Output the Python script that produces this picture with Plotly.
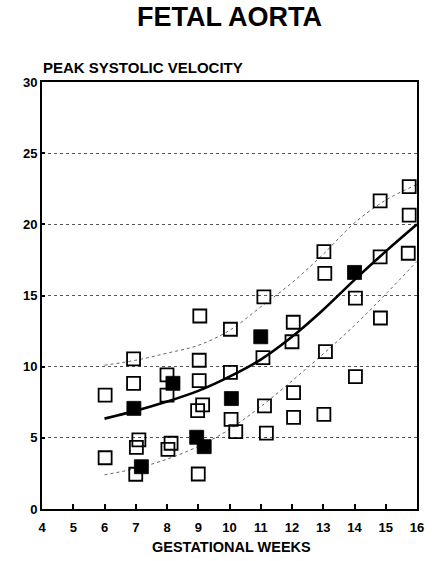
import plotly.graph_objects as go

# Individual measurements (gestational week, peak systolic velocity)
open_weeks = [6.02, 6.02, 6.93, 6.93, 7.10, 7.02, 7.00, 8.00, 8.00, 8.13, 8.03,
              9.05, 9.03, 9.03, 9.14, 8.98, 9.00, 10.03, 10.03, 10.05, 10.20,
              11.10, 11.07, 11.12, 11.18, 12.04, 12.00, 12.05, 12.05,
              13.02, 13.05, 13.07, 13.02, 14.03, 14.03, 14.82, 14.82, 14.83,
              15.75, 15.75, 15.72]
open_psv = [8.0, 3.6, 10.55, 8.83, 4.85, 4.33, 2.44, 9.42, 8.0, 4.62, 4.19,
            13.56, 10.45, 9.02, 7.31, 6.91, 2.46, 12.63, 9.6, 6.3, 5.43,
            14.9, 10.63, 7.24, 5.33, 13.12, 11.75, 8.17, 6.44,
            18.08, 16.56, 11.05, 6.65, 14.82, 9.3, 21.65, 17.72, 13.42,
            22.65, 20.65, 17.97]

filled_weeks = [6.94, 7.18, 8.19, 8.95, 9.19, 10.06, 11.00, 14.00]
filled_psv = [7.07, 2.97, 8.83, 5.04, 4.38, 7.76, 12.10, 16.62]

# Regression curve and its reference band
curve_weeks = [6, 7, 8, 9, 10, 11, 12, 13, 14, 15, 16]
mean_psv = [6.35, 6.9, 7.55, 8.3, 9.3, 10.5, 12.1, 14.0, 16.1, 18.1, 20.0]
upper_psv = [10.1, 10.45, 10.95, 11.5, 12.55, 14.2, 15.9, 17.9, 20.1, 21.7, 22.8]
lower_psv = [2.4, 2.85, 3.5, 4.4, 5.6, 7.2, 9.0, 10.9, 12.9, 15.1, 17.4]

x_ticks = list(range(4, 17))
y_ticks = [0, 5, 10, 15, 20, 25, 30]

FONT = "Liberation Sans"

fig = go.Figure()

for band in (upper_psv, lower_psv):
    fig.add_trace(go.Scatter(
        x=curve_weeks, y=band, mode="lines",
        line=dict(color="#666666", width=1, dash="dot", shape="spline"),
        hoverinfo="skip", showlegend=False))

fig.add_trace(go.Scatter(
    x=curve_weeks, y=mean_psv, mode="lines",
    line=dict(color="black", width=2.6, shape="spline"),
    showlegend=False))

fig.add_trace(go.Scatter(
    x=open_weeks, y=open_psv, mode="markers",
    marker=dict(symbol="square-open", size=13, color="black",
                line=dict(width=1.8, color="black")),
    showlegend=False))

fig.add_trace(go.Scatter(
    x=filled_weeks, y=filled_psv, mode="markers",
    marker=dict(symbol="square", size=14, color="black",
                line=dict(width=0.8, color="black")),
    showlegend=False))

fig.update_xaxes(
    range=[4, 16], tickmode="array", tickvals=x_ticks,
    ticktext=[str(t) for t in x_ticks],
    showline=True, linecolor="black", linewidth=2, mirror=True,
    ticks="inside", ticklen=5, tickwidth=1.5, tickcolor="black",
    ticklabelstandoff=5,
    showgrid=False, zeroline=False,
    tickfont=dict(family=FONT, size=13, color="black", weight="bold"),
)
fig.update_yaxes(
    range=[0, 30], tickmode="array", tickvals=y_ticks,
    ticktext=[str(t) for t in y_ticks],
    showline=True, linecolor="black", linewidth=2, mirror=True,
    ticks="inside", ticklen=3, tickwidth=1.5, tickcolor="black",
    showgrid=True, gridcolor="#555555", gridwidth=1, griddash="dot",
    zeroline=False,
    tickfont=dict(family=FONT, size=13, color="black", weight="bold"),
)

fig.add_annotation(
    text="FETAL AORTA", xref="paper", yref="paper", x=0.50, y=1.152,
    xanchor="center", yanchor="middle", showarrow=False,
    font=dict(family=FONT, size=27, color="black", weight="bold"))
fig.add_annotation(
    text="PEAK SYSTOLIC VELOCITY", xref="paper", yref="paper", x=-0.004, y=1.033,
    xanchor="left", yanchor="middle", showarrow=False,
    font=dict(family=FONT, size=15, color="black", weight="bold"))
fig.add_annotation(
    text="GESTATIONAL WEEKS", xref="paper", yref="paper", x=0.504, y=-0.089,
    xanchor="center", yanchor="middle", showarrow=False,
    font=dict(family=FONT, size=14.5, color="black", weight="bold"))

fig.update_layout(
    width=436, height=561,
    margin=dict(l=41.5, r=16.5, t=82, b=52),
    paper_bgcolor="white", plot_bgcolor="white",
    showlegend=False,
)

fig.write_html("out.html")
